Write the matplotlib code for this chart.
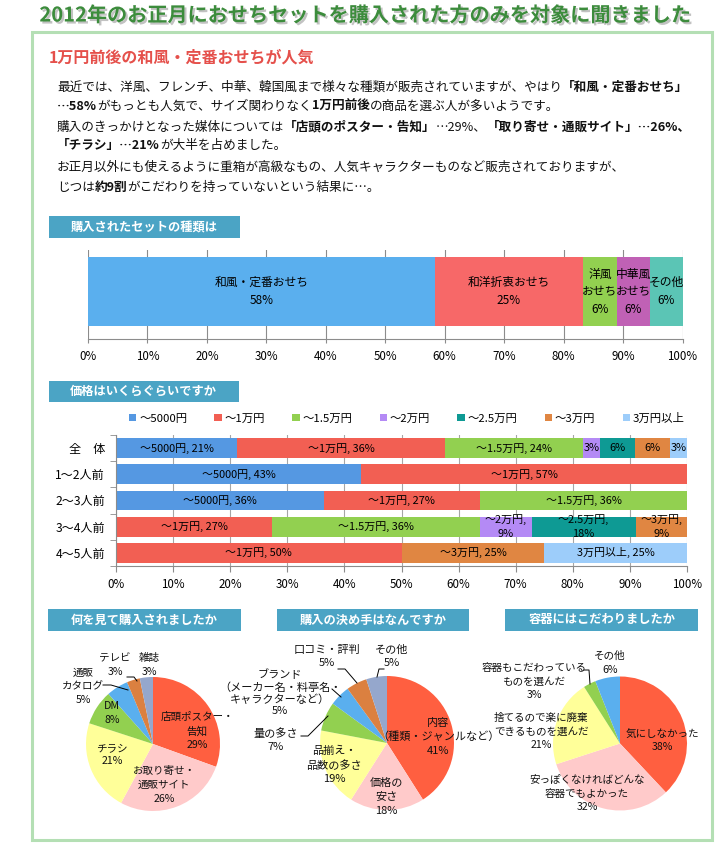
import matplotlib.pyplot as plt
import matplotlib.patheffects as pe
from matplotlib.patches import Rectangle

plt.rcParams['font.family'] = ['Noto Sans CJK JP', 'DejaVu Sans']

W, H = 715, 846

# --- data -------------------------------------------------------------
title = '2012年のお正月におせちセットを購入された方のみを対象に聞きました'
subtitle = '1万円前後の和風・定番おせちが人気'
para = [
    [('最近では、洋風、フレンチ、中華、韓国風まで様々な種類が販売されていますが、やはり', False), ('「和風・定番おせち」', True)],
    [('…58%', True), ('がもっとも人気で、サイズ関わりなく', False), ('1万円前後', True), ('の商品を選ぶ人が多いようです。', False)],
    [('購入のきっかけとなった媒体については', False), ('「店頭のポスター・告知」', True), ('…29%、', False), ('「取り寄せ・通販サイト」…26%、', True)],
    [('「チラシ」…21%', True), ('が大半を占めました。', False)],
    [('お正月以外にも使えるように重箱が高級なもの、人気キャラクターものなど販売されておりますが、', False)],
    [('じつは', False), ('約9割', True), ('がこだわりを持っていないという結果に…。', False)],
]

set_types = ['和風・定番おせち', '和洋折衷おせち', '洋風\nおせち', '中華風\nおせち', 'その他']
set_share = [58.3, 25.0, 5.6, 5.6, 5.6]

price_rows = ['全　体', '1～2人前', '2～3人前', '3～4人前', '4～5人前']
price_bands = ['～5000円', '～1万円', '～1.5万円', '～2万円', '～2.5万円', '～3万円', '3万円以上']
price_5000 = [21.2, 42.9, 36.4, 0, 0]
price_10k = [36.4, 57.1, 27.3, 27.3, 50.0]
price_15k = [24.2, 0, 36.4, 36.4, 0]
price_20k = [3.0, 0, 0, 9.1, 0]
price_25k = [6.1, 0, 0, 18.2, 0]
price_30k = [6.1, 0, 0, 9.1, 25.0]
price_over = [3.0, 0, 0, 0, 25.0]
price_share = [price_5000, price_10k, price_15k, price_20k, price_25k, price_30k, price_over]

media_labels = ['店頭ポスター・\n告知', 'お取り寄せ・\n通販サイト', 'チラシ', 'DM', '通販\nカタログ', 'テレビ', '雑誌']
media_share = [29, 26, 21, 8, 5, 3, 3]
reason_labels = ['内容\n（種類・ジャンルなど）', '価格の\n安さ', '品揃え・\n品数の多さ', '量の多さ',
                 'ブランド\n（メーカー名・料亭名・\nキャラクターなど）', '口コミ・評判', 'その他']
reason_share = [41, 18, 19, 7, 5, 5, 5]
box_labels = ['気にしなかった', '安っぽくなければどんな\n容器でもよかった', '捨てるので楽に廃棄\nできるものを選んだ',
              '容器もこだわっている\nものを選んだ', 'その他']
box_share = [38, 32, 21, 3, 6]

# --- styles -----------------------------------------------------------
set_colors = ['#5aafee', '#f76868', '#92d050', '#c061b5', '#5bc5b5']
price_colors = ['#5598e2', '#f25f53', '#92d050', '#b48af5', '#0e9a94', '#e08642', '#9dcdfa']
pie_colors = ['#ff5f40', '#ffcaca', '#ffff99', '#92d050', '#5aafee', '#db8040', '#95a7cc']
box_colors = ['#ff5f40', '#ffcaca', '#ffff99', '#92d050', '#5aafee']
head_color = '#4ba4c5'
grid_color = '#8c8c8c'

fig = plt.figure(figsize=(W / 100, H / 100), dpi=100)
bg = fig.add_axes([0, 0, 1, 1])
bg.set_xlim(0, W)
bg.set_ylim(H, 0)
bg.axis('off')
renderer = fig.canvas.get_renderer()


def px_axes(x0, y0, x1, y1):
    return fig.add_axes([x0 / W, 1 - y1 / H, (x1 - x0) / W, (y1 - y0) / H])


def header(x0, x1, y0, y1, text):
    bg.add_patch(Rectangle((x0, y0), x1 - x0, y1 - y0, color=head_color, lw=0))
    bg.text((x0 + x1) / 2, (y0 + y1) / 2, text, ha='center', va='center',
            fontsize=8.8, fontweight='bold', color='white')


# title, frame, intro text
bg.text(365, 15, title, ha='center', va='center', fontsize=14.5, fontweight='bold', color='#3c8c3c',
        path_effects=[pe.withSimplePatchShadow(offset=(1.5, -1.5), shadow_rgbFace='#9a9a9a', alpha=0.6)])
bg.add_patch(Rectangle((32, 32), 680, 808, fill=False, ec='#b4dfb4', lw=2.2))
bg.text(49, 58, subtitle, ha='left', va='center', fontsize=11.5, fontweight='bold', color='#e5504b')

line_y = [87, 106, 127, 146, 167, 187]
for segs, y in zip(para, line_y):
    x = 57
    for s, b in segs:
        t = bg.text(x, y, s, fontsize=9.1, fontweight='bold' if b else 'normal',
                    ha='left', va='center', color='#111111')
        x += t.get_window_extent(renderer).width

# --- set type bar -------------------------------------------------------
header(48.6, 240, 216, 237.7, '購入されたセットの種類は')
ax1 = px_axes(88, 250, 682.5, 338.7)
left = 0
for name, v, c in zip(set_types, set_share, set_colors):
    ax1.barh(0.532, v, left=left, height=0.778, color=c, zorder=2)
    ax1.text(left + v / 2, 0.532, f'{name}\n{v:.0f}%', ha='center', va='center',
             fontsize=8.5, linespacing=1.45, zorder=3)
    left += v
ax1.set_xlim(0, 100)
ax1.set_ylim(0, 1)
ax1.set_xticks(range(0, 101, 10))
ax1.set_xticklabels([f'{t}%' for t in range(0, 101, 10)])
ax1.set_yticks([])
ax1.grid(axis='x', color=grid_color, lw=0.8, zorder=0)
for s in ['top', 'left', 'right']:
    ax1.spines[s].set_visible(False)
ax1.spines['bottom'].set_color(grid_color)
ax1.tick_params(axis='x', length=3, color=grid_color, labelsize=8.3, pad=5)
ax1.patch.set_alpha(0)

# --- price bars ---------------------------------------------------------
header(48.6, 239, 381, 401.7, '価格はいくらぐらいですか')
ax2 = px_axes(116, 435, 687, 566)
rows = list(range(len(price_rows)))
lefts = [0] * len(price_rows)
for band, vals, c in zip(price_bands, price_share, price_colors):
    ax2.barh(rows, vals, left=lefts, height=0.76, color=c, label=band, zorder=2)
    for r, v, l in zip(rows, vals, lefts):
        if v <= 0:
            continue
        if v < 7:
            lab = f'{v:.0f}%'
        elif v < 20:
            lab = f'{band},\n{v:.0f}%'
        else:
            lab = f'{band}, {v:.0f}%'
        ax2.text(l + v / 2, r, lab, ha='center', va='center', fontsize=7.9, linespacing=1.45, zorder=3)
    lefts = [a + b for a, b in zip(lefts, vals)]
ax2.set_xlim(0, 100)
ax2.set_ylim(4.5, -0.5)
ax2.set_xticks(range(0, 101, 10))
ax2.set_xticklabels([f'{t}%' for t in range(0, 101, 10)])
ax2.set_yticks(rows)
ax2.set_yticklabels(price_rows)
ax2.set_yticks([r - 0.5 for r in rows] + [4.5], minor=True)
ax2.tick_params(axis='y', which='major', length=0, labelsize=8.7, pad=8)
ax2.tick_params(axis='y', which='minor', length=4, color=grid_color)
ax2.tick_params(axis='x', length=4, color=grid_color, labelsize=8.3, pad=4.5)
ax2.grid(axis='x', color='#a6a6a6', lw=0.8, zorder=0)
for s in ['top', 'right']:
    ax2.spines[s].set_visible(False)
ax2.spines['left'].set_color(grid_color)
ax2.spines['bottom'].set_color(grid_color)
ax2.patch.set_alpha(0)
ax2.legend(ncol=7, loc='center left', bbox_to_anchor=(129 / W, 1 - 418 / H),
           bbox_transform=fig.transFigure, frameon=False, fontsize=8.2, borderpad=0, borderaxespad=0,
           handlelength=0.63, handleheight=0.63, handletextpad=0.25, columnspacing=2.4)

# --- pies ---------------------------------------------------------------
def draw_pie(cx, cy, r, values, colors):
    ax = px_axes(cx - r, cy - r, cx + r, cy + r)
    ax.pie(values, colors=colors, startangle=90, counterclock=False, radius=1,
           wedgeprops=dict(linewidth=0))
    ax.set_xlim(-1, 1)
    ax.set_ylim(-1, 1)
    ax.set_aspect('equal')


header(48, 241, 609, 631, '何を見て購入されましたか')
header(277, 469, 609, 631, '購入の決め手はなんですか')
header(505, 698, 609, 631, '容器にはこだわりましたか')

draw_pie(153, 744, 67, media_share, pie_colors)
draw_pie(387, 743, 67, reason_share, pie_colors)
draw_pie(620, 743.5, 67, box_share, box_colors)

# labels go on an overlay so they sit above the pies
top = fig.add_axes([0, 0, 1, 1])
top.set_xlim(0, W)
top.set_ylim(H, 0)
top.axis('off')


def pie_labels(labels, values, pos, size):
    for lab, v, (x, y) in zip(labels, values, pos):
        ls = 1.2 if lab.count('\n') >= 2 else 1.45
        top.text(x, y, f'{lab}\n{v}%', ha='center', va='center', fontsize=size,
                 linespacing=ls, color='#111111')


def leaders(lines):
    for pts in lines:
        top.plot([p[0] for p in pts], [p[1] for p in pts], color='black', lw=0.7)


pie_labels(media_labels, media_share,
           [(197, 731), (164, 785), (112, 754.5), (112, 713), (83, 686), (115, 665), (149, 665)], 7.6)
leaders([[(103, 685), (111, 685), (128, 690)], [(127, 677), (134, 677), (137, 681)]])

pie_labels(reason_labels, reason_share,
           [(438, 737), (386, 797), (334, 765), (276, 740), (280, 693), (327, 656.5), (392, 656.5)], 8)
leaders([[(301, 736), (308, 736), (328, 716)], [(332, 689), (341, 697)],
         [(338, 669), (345, 669), (357, 683)], [(384, 669), (379, 669), (377, 677)]])

pie_labels(box_labels, box_share,
           [(662, 740.5), (587, 793.5), (541, 731.5), (534, 681.5), (610, 663)], 7.6)
leaders([[(584, 670), (589, 670), (590, 684)]])

fig.savefig('out.png', dpi=100)
